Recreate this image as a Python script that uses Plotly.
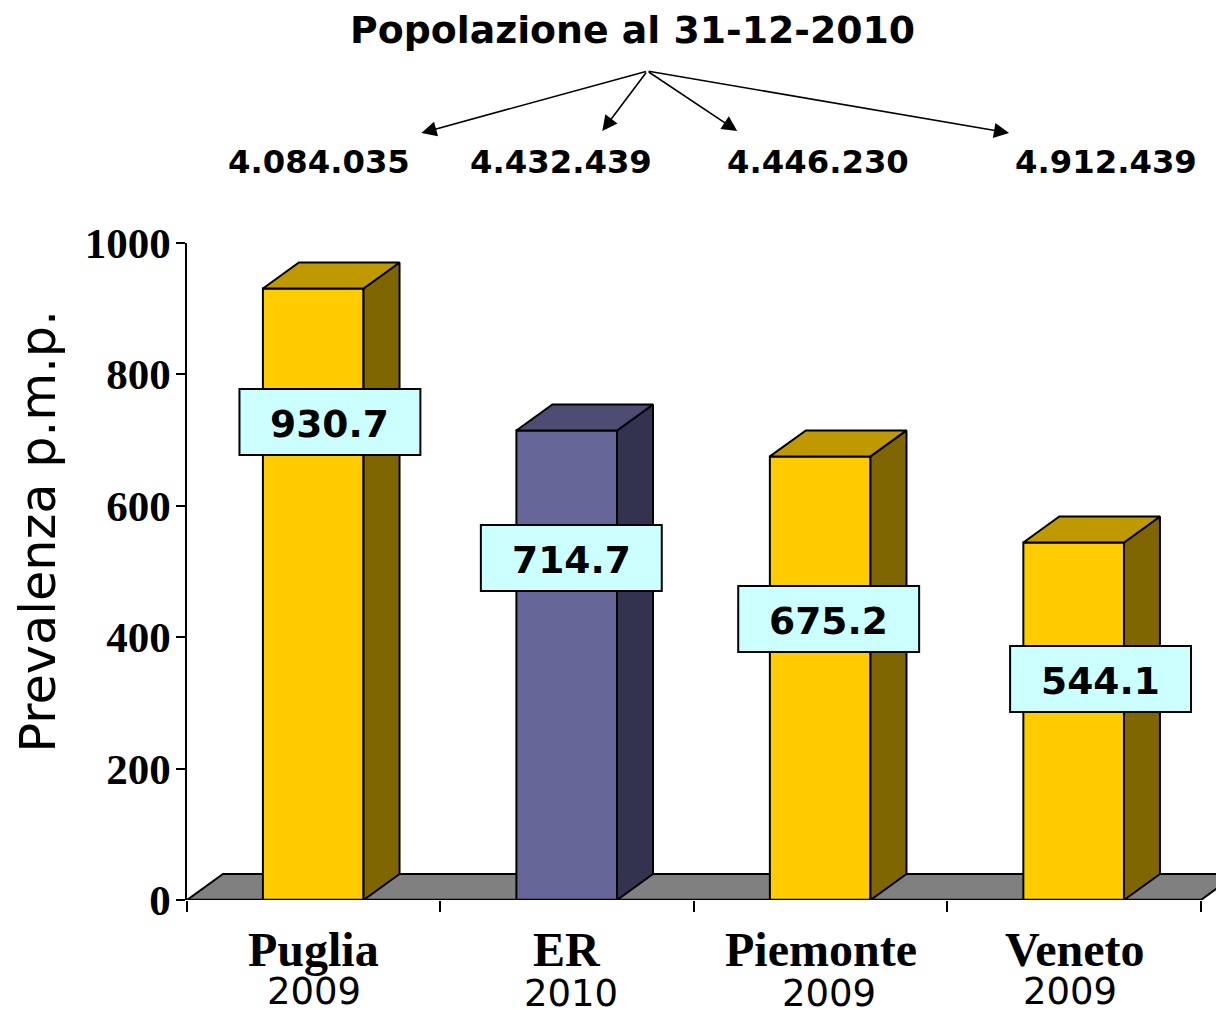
import plotly.graph_objects as go

regions = ["Puglia", "ER", "Piemonte", "Veneto"]
years = ["2009", "2010", "2009", "2009"]
prevalence = [930.7, 714.7, 675.2, 544.1]
population = ["4.084.035", "4.432.439", "4.446.230", "4.912.439"]
y_ticks = [0, 200, 400, 600, 800, 1000]
title_text = "Popolazione al 31-12-2010"
y_title = "Prevalenza p.m.p."

front = ["#FFCC00", "#666699", "#FFCC00", "#FFCC00"]
top = ["#BF9900", "#4D4D73", "#BF9900", "#BF9900"]
side = ["#806600", "#333350", "#806600", "#806600"]

W, H = 1216, 1010
L, T, B0 = 186.5, 243, 900
CAT = 253.6
PH = B0 - T
BAR_W = 0.397
DX = 36 / CAT
DY = 26 / (PH / 1000)
x_end = (W - L) / CAT - 0.5
BLK = "#000000"
LW = 2


def px(x):
    return (x - L) / (W - L)


def py(y):
    return (B0 - y) / PH


fig = go.Figure()
xs = list(range(len(regions)))

fig.add_trace(go.Bar(x=xs, y=prevalence, width=BAR_W, offset=-BAR_W / 2 - 0.002,
                     marker=dict(color=front, line=dict(color=BLK, width=LW)),
                     hoverinfo="skip", showlegend=False))

for i, v in enumerate(prevalence):
    a = i - BAR_W / 2 - 0.002
    b = a + BAR_W
    fig.add_trace(go.Scatter(x=[b, b + DX, b + DX, b, b], y=[0, DY, v + DY, v, 0], mode="lines", fill="toself",
                             fillcolor=side[i], line=dict(color=BLK, width=LW), showlegend=False, hoverinfo="skip",
                             cliponaxis=False))
    fig.add_trace(go.Scatter(x=[a, a + DX, b + DX, b, a], y=[v, v + DY, v + DY, v, v], mode="lines", fill="toself",
                             fillcolor=top[i], line=dict(color=BLK, width=LW), showlegend=False, hoverinfo="skip",
                             cliponaxis=False))

fig.add_trace(go.Scatter(x=[-0.5, 3.5], y=[0, 0], mode="lines", line=dict(color=BLK, width=2.5), showlegend=False,
                         hoverinfo="skip", cliponaxis=False))

floor_path = f"M -0.5 0 L {-0.5 + DX} {DY} L {3.5 + DX} {DY} L 3.5 0 Z"
fig.add_shape(type="path", path=floor_path, xref="x", yref="y", fillcolor="#808080",
              line=dict(color=BLK, width=LW), layer="below")

ann = []
ann.append(dict(text=title_text, x=px(632.5), y=py(30), font=dict(family="DejaVu Sans", size=37.8, color=BLK, weight="bold")))

pop_x = [318.5, 560.5, 817.5, 1105.5]
for t, x0 in zip(population, pop_x):
    ann.append(dict(text=t, x=px(x0), y=py(162), font=dict(family="DejaVu Sans", size=32.3, color=BLK, weight="bold")))

arrow_to = [(421, 133), (602, 131), (737, 131), (1009, 133)]
for (x1, y1) in arrow_to:
    ann.append(dict(text="", x=px(x1), y=py(y1), ax=647 - x1, ay=71 - y1, showarrow=True, arrowhead=2, arrowsize=1.9,
                    arrowwidth=1.6, arrowcolor=BLK, standoff=0))

box_c = [(329.5, 422), (571, 558), (828.5, 619), (1100.5, 679)]
for v, (cx, cy) in zip(prevalence, box_c):
    fig.add_shape(type="rect", xref="paper", yref="paper", x0=px(cx - 90.5), x1=px(cx + 90.5), y0=py(cy - 33),
                  y1=py(cy + 33), fillcolor="#CCFFFF", line=dict(color=BLK, width=2), layer="above")
    ann.append(dict(text=f"{v:.1f}", x=px(cx), y=py(cy + 1.5),
                    font=dict(family="DejaVu Sans", size=37.6, color=BLK, weight="bold")))

name_c = [313, 567, 821, 1075]
year_c = [(314, 991), (571, 993), (829, 993), (1070, 991)]
for n, cx, yr, (yx, yy) in zip(regions, name_c, years, year_c):
    ann.append(dict(text=n, x=px(cx), y=py(949), font=dict(family="Liberation Serif", size=48, color=BLK, weight="bold")))
    ann.append(dict(text=yr, x=px(yx), y=py(yy), font=dict(family="DejaVu Sans", size=37, color=BLK)))

ann.append(dict(text=y_title, x=px(37), y=py(532), textangle=-90, font=dict(family="DejaVu Sans", size=49.3, color=BLK)))

for a in ann:
    a.update(xref="paper", yref="paper", xanchor="center", yanchor="middle")
    a.setdefault("showarrow", False)

fig.update_layout(
    width=W, height=H, paper_bgcolor="white", plot_bgcolor="white",
    margin=dict(l=L, r=0, t=T, b=H - B0, pad=0),
    barmode="overlay", showlegend=False, annotations=ann,
    font=dict(family="Liberation Serif", color=BLK),
    xaxis=dict(range=[-0.5, x_end], showgrid=False, zeroline=False, showline=False, ticks="outside", ticklen=11,
               tickwidth=1.5, tickcolor=BLK, tickvals=[-0.5, 0.5, 1.5, 2.5, 3.5], ticktext=["", "", "", "", ""]),
    yaxis=dict(range=[0, 1000], showgrid=False, zeroline=False, showline=True, linecolor=BLK, linewidth=1.5,
               ticks="outside", ticklen=9, tickwidth=1.5, tickcolor=BLK, tickvals=y_ticks, ticklabelstandoff=-3,
               tickfont=dict(family="Liberation Serif", size=43, color=BLK, weight="bold")),
)

fig.write_html("out.html", config={"displayModeBar": False},
               post_script="document.body.style.margin='0';document.body.style.overflow='hidden';")
